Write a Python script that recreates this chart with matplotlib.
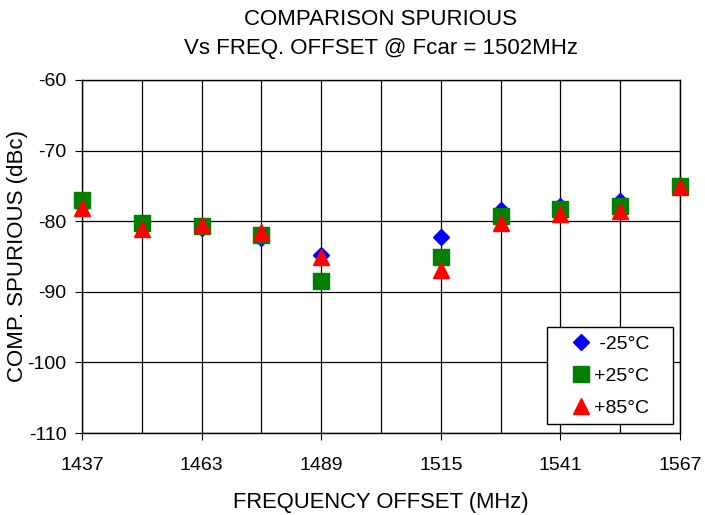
import matplotlib
matplotlib.use("Agg")
import matplotlib.pyplot as plt
from matplotlib.patches import Rectangle
import numpy as np

plt.rcParams['font.family'] = ['Liberation Sans', 'DejaVu Sans']
plt.rcParams['axes.unicode_minus'] = False

freq = [1437, 1450, 1463, 1476, 1489, 1515, 1528, 1541, 1554, 1567]
m25 = [-77.8, -80.5, -80.9, -82.4, -84.8, -82.3, -78.4, -77.9, -77.2, -74.9]
p25 = [-77.0, -80.3, -80.7, -81.9, -88.5, -85.0, -79.2, -78.3, -77.9, -75.0]
p85 = [-78.2, -81.1, -80.6, -81.5, -85.1, -86.9, -80.3, -79.0, -78.6, -75.1]
series_labels = [' -25°C', '+25°C', '+85°C']

xticks_major = [1437, 1463, 1489, 1515, 1541, 1567]
xgrid = [1437, 1450, 1463, 1476, 1489, 1502, 1515, 1528, 1541, 1554, 1567]
yticks = [-60, -70, -80, -90, -100, -110]

W, H = 705, 515
fig = plt.figure(figsize=(W/100, H/100), dpi=100)
ax = fig.add_axes([82/W, 1-433/H, (680-82)/W, (433-80)/H])

ax.plot(freq, m25, linestyle='none', marker='D', color='#0000ff', markersize=8.5, label=series_labels[0], zorder=3, clip_on=False)
ax.plot(freq, p25, linestyle='none', marker='s', color='#007f00', markersize=11, label=series_labels[1], zorder=4, clip_on=False)
ax.plot(freq, p85, linestyle='none', marker='^', color='#ff0000', markersize=11, label=series_labels[2], zorder=5, clip_on=False)

ax.set_xlim(1437, 1567)
ax.set_ylim(-110, -60)
ax.set_xticks(xticks_major)
ax.set_xticks(xgrid, minor=True)
ax.set_yticks(yticks)
ax.grid(True, which='both', axis='x', color='black', linewidth=0.9)
ax.grid(True, which='major', axis='y', color='black', linewidth=0.9)
ax.tick_params(axis='both', which='major', direction='out', length=5, labelsize=14, color='black')
ax.tick_params(axis='x', which='major', pad=12)
ax.tick_params(axis='y', which='major', pad=6)
ax.tick_params(axis='x', which='minor', length=0)
for s in ax.spines.values():
    s.set_linewidth(1.0)
    s.set_color('black')

ax.set_xlabel('FREQUENCY OFFSET (MHz)', fontsize=15.8, labelpad=13)
ax.set_ylabel('COMP. SPURIOUS (dBc)', fontsize=16)
ax.yaxis.set_label_coords(-0.09, 0.5)
ax.set_title('COMPARISON SPURIOUS\nVs FREQ. OFFSET @ Fcar = 1502MHz', fontsize=16, pad=19, linespacing=1.5)

# legend frame
rect = Rectangle((547/W, 1-424/H), 126/W, 97/H, transform=fig.transFigure, facecolor='white',
                 edgecolor='black', linewidth=1.0, zorder=6, clip_on=False)
ax.add_patch(rect)
leg = ax.legend(loc='center left', bbox_to_anchor=(571.3/W, 1-376/H), bbox_transform=fig.transFigure,
                fontsize=14, frameon=False, handletextpad=0.15, labelspacing=0.75, borderpad=0,
                handlelength=1.0, borderaxespad=0)
leg.set_zorder(7)

fig.savefig('out.png', dpi=100)
